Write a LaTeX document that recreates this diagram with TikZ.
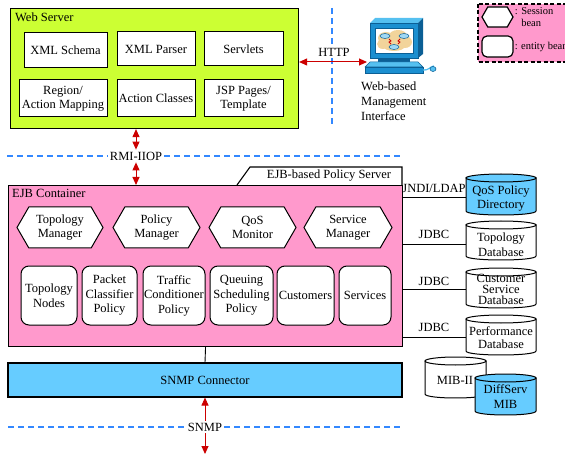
\documentclass[tikz,border=0pt]{standalone}
\usepackage{fontspec}
\setmainfont{Liberation Serif}
\usetikzlibrary{shapes.symbols,arrows.meta}

\definecolor{pinkfill}{HTML}{FF99CC}
\definecolor{greenfill}{HTML}{CCFF33}
\definecolor{bluefill}{HTML}{66CCFF}
\definecolor{dashblue}{HTML}{3388FF}
\definecolor{arrowred}{HTML}{CC0000}
\definecolor{monblue}{HTML}{1B8FD0}
\definecolor{mondark}{HTML}{0B5F95}
\definecolor{monlight}{HTML}{55C0F0}
\definecolor{cloudtan}{HTML}{F2D49B}
\definecolor{routerblue}{HTML}{9FD8F5}

\tikzset{
  every node/.style={font=\fontsize{12.5}{14.5}\selectfont, inner sep=1pt},
  container/.style={draw, line width=1.1pt, anchor=north west},
  wbox/.style={draw, line width=1pt, fill=white, align=center},
  sbean/.style={shape=signal, signal to=west and east, signal pointer angle=120,
    draw, line width=1pt, fill=white, align=center},
  ebean/.style={draw, line width=1pt, fill=white, rounded corners=8pt, align=center},
  dbtext/.style={align=center, minimum width=70},
  link/.style={draw, line width=0.9pt},
  proto/.style={fill=white, inner sep=2pt},
  netline/.style={draw=dashblue, line width=1.1pt, dash pattern=on 6pt off 4pt},
  redarrow/.style={draw=arrowred, line width=1pt, >={Triangle[length=8pt,width=7pt]}, <->},
  legendtext/.style={font=\fontsize{10.5}{12.5}\selectfont, align=left, anchor=west},
}

% cylinder: left x, top y, right x, bottom y, fill colour
\newcommand\dbcyl[5]{%
  \filldraw[fill=#5, line width=1pt]
    (#1,{#2+4}) -- (#1,{#4-4})
    .. controls (#1,{#4+1.33}) and (#3,{#4+1.33}) .. (#3,{#4-4})
    -- (#3,{#2+4}) -- cycle;
  \draw[line width=1pt, fill=#5] ({(#1+#3)/2},{#2+4}) ellipse[x radius={(#3-#1)/2}, y radius=4];
}

\begin{document}
\begin{tikzpicture}[x=1pt, y=-1pt]
\useasboundingbox (0,0) rectangle (565,457);

% ---------- web server ----------
\node[container, fill=greenfill, minimum width=288, minimum height=120] (ws) at (10,8) {};
\node[anchor=west] (wstitle) at (14,17) {Web Server};
\node[wbox, minimum width=83, minimum height=35] (xsd) at (65.5,50) {XML Schema};
\node[wbox, minimum width=78, minimum height=34] (xmlp) at (156,49) {XML Parser};
\node[wbox, minimum width=79, minimum height=34] (servl) at (243.5,49) {Servlets};
\node[wbox, minimum width=88, minimum height=37] (region) at (63,98.5) {Region/\\Action Mapping};
\node[wbox, minimum width=78, minimum height=37] (action) at (156,98.5) {Action Classes};
\node[wbox, minimum width=79, minimum height=37] (jsp) at (243.5,98.5) {JSP Pages/\\Template};

% ---------- management workstation ----------
\fill[monlight] (370,23) -- (375,18) -- (423,18) -- (418,23) -- cycle;
\fill[mondark] (418,23) -- (423,18) -- (423,54) -- (418,58) -- cycle;
\filldraw[fill=monblue, draw=mondark, line width=0.6pt] (370,23) rectangle (418,58);
\filldraw[fill=white, draw=mondark, line width=0.8pt] (375,28) rectangle (413,53);
\begin{scope}
  \clip (376,29) rectangle (412,52);
  \fill[cloudtan] (386,38) ellipse[x radius=8, y radius=6]
                  (398,36) ellipse[x radius=9, y radius=6]
                  (405,42) ellipse[x radius=7, y radius=6]
                  (394,46) ellipse[x radius=11, y radius=5]
                  (383,44) ellipse[x radius=6, y radius=5];
\end{scope}
\foreach \rx/\ry in {385/36, 404/36, 394/47}
  \filldraw[fill=routerblue, draw=mondark, line width=0.5pt] (\rx,\ry) ellipse[x radius=5, y radius=2.5];
\draw[arrowred, line width=0.8pt] (389,39) -- (391,41) -- (389,42) -- (391,44);
\draw[arrowred, line width=0.8pt] (400,39) -- (398,41) -- (400,42) -- (398,44);
\fill[mondark] (378,58) rectangle (410,62);
\filldraw[fill=monlight, draw=mondark, line width=0.5pt] (370,62) -- (418,62) -- (423,67) -- (365,67) -- cycle;
\filldraw[fill=monblue, draw=mondark, line width=0.5pt] (365,67) rectangle (423,73);
\draw[monlight, line width=1.3pt] (423,70) .. controls (428,71) and (431,66) .. (434,66);
\filldraw[fill=monlight, draw=mondark, line width=0.5pt] (433,69) ellipse[x radius=3, y radius=2.5];
\coordinate (pc) at (367,62);
\node[align=left, anchor=west, font=\fontsize{12.5}{15}\selectfont] (pclabel) at (360,101)
  {Web-based\\Management\\Interface};

% HTTP link and network boundary
\coordinate (httptop) at (332,8);
\coordinate (httpbot) at (332,127);
\path[netline] (httptop) -- (httpbot);
\node[proto] (http) at (334,52) {HTTP};
\path[redarrow] (ws.east |- pc) -- (pc);

% ---------- legend ----------
\filldraw[fill=pinkfill, line width=1.5pt, dash pattern=on 4pt off 2.5pt] (478,4) rectangle (575,62);
\node[sbean, line width=1.2pt, minimum width=31, minimum height=20] (lgsess) at (497.5,17) {};
\node[ebean, line width=1.2pt, rounded corners=5pt, minimum width=31, minimum height=21] (lgent) at (497.5,46.5) {};
\node[legendtext] (lgsesst) at (lgsess.east) {: Session\\\phantom{: }bean};
\node[legendtext] (lgentt) at (lgent.east) {: entity bean};

% ---------- EJB container ----------
\node[container, fill=pinkfill, minimum width=394, minimum height=161] (ejb) at (8,185) {};
\filldraw[fill=white, line width=1.1pt] (237,185) -- (250,167) -- (402,167) -- (402,185);
\node (ejbserver) at (329,176) {EJB-based Policy Server};
\node[anchor=west] (ejbtitle) at (11,193) {EJB Container};

\node[sbean, minimum width=86, minimum height=41] (topom) at (60,227.5) {Topology\\Manager};
\node[sbean, minimum width=87, minimum height=41] (polm) at (156.5,227.5) {Policy\\Manager};
\node[sbean, minimum width=87, minimum height=41] (qosm) at (252.5,227.5) {QoS\\Monitor};
\node[sbean, minimum width=88, minimum height=41] (servm) at (348,227.5) {Service\\Manager};

\node[ebean, minimum width=56, minimum height=59] (topon) at (49,295.5) {Topology\\Nodes};
\node[ebean, minimum width=55, minimum height=59] (pcp) at (109.5,295.5) {Packet\\Classifier\\Policy};
\node[ebean, minimum width=62, minimum height=59] (tcp) at (174,295.5) {Traffic\\Conditioner\\Policy};
\node[ebean, minimum width=63, minimum height=59] (qsp) at (241.5,295.5) {Queuing\\Scheduling\\Policy};
\node[ebean, minimum width=57, minimum height=59] (cust) at (305.5,295.5) {Customers};
\node[ebean, minimum width=52, minimum height=59] (serv) at (365,295.5) {Services};

% RMI-IIOP boundary and link
\node[proto] (rmi) at (136,156) {RMI-IIOP};
\coordinate (rmileft) at (7,156);
\coordinate (rmiright) at (400,156);
\path[netline] (rmileft) -- (rmi.west);
\path[netline] (rmi.east) -- (rmiright);
\path[redarrow] (ws.south -| rmi) -- (rmi.north);
\path[redarrow] (rmi.south) -- (ejb.north -| rmi);

% ---------- data stores ----------
\dbcyl{466}{174}{536}{215}{bluefill}
\node[dbtext] (qosdir) at (501,198.5) {QoS Policy\\Directory};
\dbcyl{466}{221}{536}{260}{white}
\node[dbtext] (topodb) at (501,244.5) {Topology\\Database};
\dbcyl{466}{268}{536}{308}{white}
\node[dbtext, font=\fontsize{12.5}{11}\selectfont] (custdb) at (501,289.5) {Customer\\Service\\Database};
\dbcyl{466}{315}{536}{355}{white}
\node[dbtext, font=\fontsize{12.5}{13.5}\selectfont] (perfdb) at (501,337.5) {Performance\\Database};
\dbcyl{425}{357}{486}{398}{white}
\node (mib) at (455,380) {MIB-II};
\dbcyl{475}{374}{536}{415}{bluefill}
\node[align=center] (dsmib) at (505.5,396.5) {DiffServ\\MIB};

\path[link] (ejb.east |- 0,197) -- (qosdir.west |- 0,197);
\path[link] (ejb.east |- topodb.west) -- (topodb.west);
\path[link] (ejb.east |- custdb.west) -- (custdb.west);
\path[link] (ejb.east |- perfdb.west) -- (perfdb.west);
\node (jndi) at (434,188) {JNDI/LDAP};
\node (jdbc1) at (434,234) {JDBC};
\node (jdbc2) at (434,281) {JDBC};
\node (jdbc3) at (434,327) {JDBC};

% ---------- SNMP connector ----------
\node[draw, line width=1.1pt, fill=bluefill, minimum width=394, minimum height=34] (snmp) at (205,380) {SNMP Connector};
\path[link] (ejb.south) -- (snmp.north);
\node[proto] (snmplbl) at (205,427) {SNMP};
\coordinate (snmpleft) at (8,427);
\coordinate (snmpright) at (402,427);
\coordinate (snmpend) at (205,454);
\path[netline] (snmpleft) -- (snmplbl.west);
\path[netline] (snmplbl.east) -- (snmpright);
\path[redarrow, ->] (snmplbl.north) -- (snmp.south);
\path[redarrow, ->] (snmplbl.south) -- (snmpend);
\end{tikzpicture}
\end{document}
